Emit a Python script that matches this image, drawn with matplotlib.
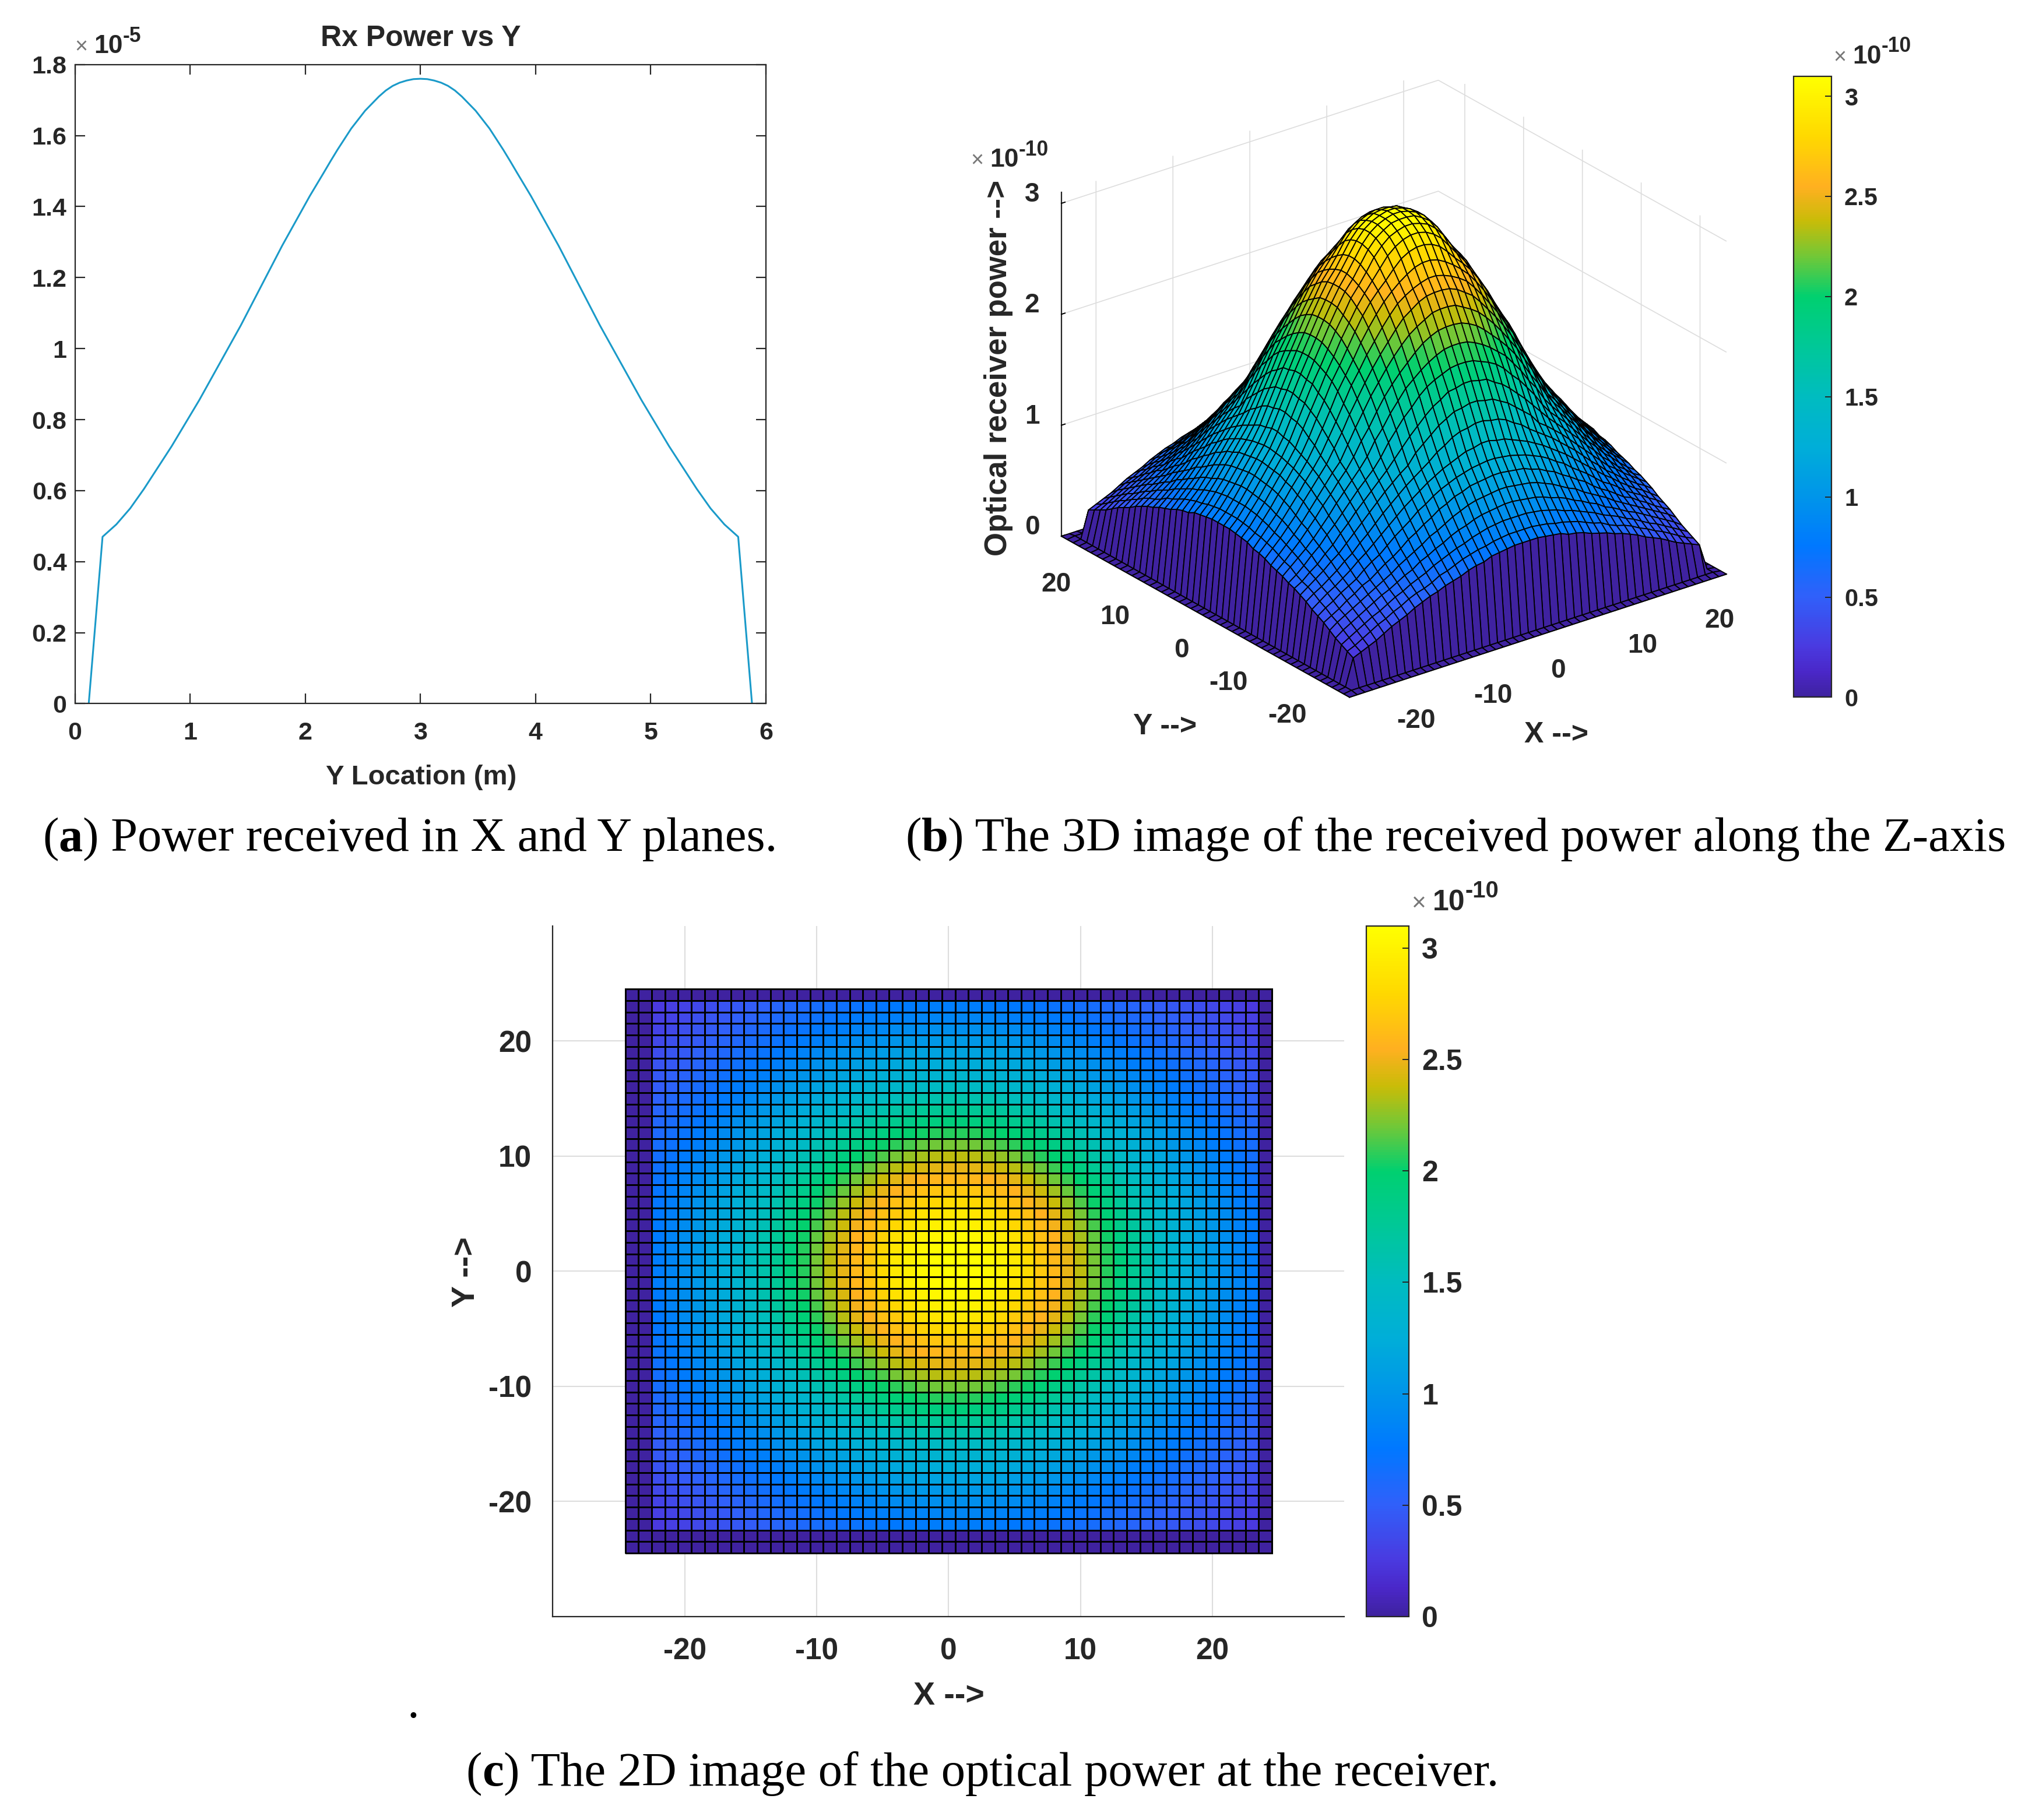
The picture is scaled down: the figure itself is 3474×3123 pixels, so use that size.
import matplotlib
matplotlib.use('Agg')
import matplotlib.pyplot as plt
import numpy as np
from matplotlib.colors import LinearSegmentedColormap, Normalize
from matplotlib.cm import ScalarMappable
from mpl_toolkits.mplot3d import proj3d

plt.rcParams['font.family'] = ['Liberation Sans', 'DejaVu Sans']
plt.rcParams['axes.unicode_minus'] = False

# panel a: received power along Y
y_location = [0, .12, .24, .36, .48, .6, .72, .84, .96, 1.08, 1.2, 1.32, 1.44, 1.56, 1.68, 1.8, 1.92,
              2.04, 2.16, 2.22, 2.28, 2.34, 2.4, 2.46, 2.52, 2.58, 2.64, 2.7, 2.76, 2.82, 2.88, 2.94, 3.0,
              3.06, 3.12, 3.18, 3.24, 3.3, 3.36, 3.42, 3.48, 3.54, 3.6, 3.66, 3.72, 3.78, 3.84,
              3.96, 4.08, 4.2, 4.32, 4.44, 4.56, 4.68, 4.8, 4.92, 5.04, 5.16, 5.28, 5.4, 5.52,
              5.64, 5.76, 5.88, 6.0]
rx_power = [0, 0, .47, .505, .55, .605, .665, .725, .79, .855, .925, .995, 1.065, 1.14, 1.215, 1.29, 1.36,
            1.43, 1.495, 1.528, 1.56, 1.59, 1.62, 1.645, 1.67, 1.69, 1.71, 1.727, 1.74, 1.749, 1.755, 1.759, 1.76,
            1.759, 1.755, 1.749, 1.74, 1.727, 1.71, 1.69, 1.67, 1.645, 1.62, 1.59, 1.56, 1.528, 1.495,
            1.43, 1.36, 1.29, 1.215, 1.14, 1.065, .995, .925, .855, .79, .725, .665, .605, .55,
            .505, .47, 0, 0]

# panels b, c: power in 1e-12 units, one row per |x| step, one entry per |y| step (x, y symmetric)
grid_x = np.arange(-24.5, 25, 1.0)
power_table = [
    [310],
    [308, 307],
    [305, 303, 300],
    [300, 298, 294, 288],
    [292, 290, 286, 279, 271],
    [281, 279, 275, 270, 264, 257],
    [270, 268, 265, 261, 256, 248, 239],
    [260, 259, 256, 251, 246, 238, 229, 220],
    [248, 247, 243, 239, 234, 227, 219, 210, 200],
    [235, 234, 231, 227, 221, 214, 207, 199, 190, 179],
    [221, 220, 217, 213, 208, 202, 196, 187, 178, 167, 158],
    [207, 206, 203, 200, 196, 190, 182, 175, 166, 157, 146, 137],
    [193, 191, 190, 185, 181, 175, 168, 161, 153, 145, 137, 130, 123],
    [178, 176, 175, 171, 167, 161, 155, 149, 140, 135, 129, 123, 116, 109],
    [163, 161, 160, 157, 152, 148, 142, 137, 132, 127, 121, 115, 109, 102, 95],
    [148, 146, 145, 142, 139, 136, 132, 128, 123, 118, 113, 107, 101, 95, 89, 83],
    [135, 134, 133, 131, 129, 126, 123, 119, 114, 110, 104, 99, 94, 88, 82, 78, 73],
    [125, 124, 123, 122, 119, 117, 113, 110, 105, 101, 96, 92, 86, 81, 77, 72, 67, 64],
    [115, 114, 113, 112, 110, 107, 104, 100, 96, 93, 88, 84, 80, 76, 71, 67, 63, 59, 55],
    [105, 104, 103, 102, 100, 97, 95, 92, 88, 85, 81, 78, 73, 70, 66, 62, 59, 55, 51, 47],
    [95, 95, 94, 93, 91, 89, 86, 84, 81, 78, 75, 71, 68, 65, 61, 58, 54, 50, 47, 43, 39],
    [86, 86, 85, 84, 82, 81, 79, 77, 74, 71, 69, 65, 62, 60, 57, 53, 50, 46, 43, 39, 35, 31],
    [79, 79, 78, 77, 76, 73, 72, 70, 67, 65, 63, 60, 58, 55, 52, 48, 45, 42, 38, 34, 31, 28, 25],
    [1] * 24,
    [0] * 25,
]

# colour stops
cbar_values = [0, .12, .25, .5, .75, 1, 1.25, 1.5, 1.75, 2.0, 2.2, 2.38, 2.55, 2.8, 3.1]
cbar_colors = ['#3f22a0', '#4a27c8', '#4a3ae0', '#3060fa', '#0078ff', '#0095ea', '#00aed8', '#00bcc0',
               '#00c898', '#00d070', '#70c838', '#c8bc08', '#ffb020', '#ffd800', '#ffff00']

tick_3d = [-20, -10, 0, 10, 20]
tick_labels = ['-20', '-10', '0', '10', '20']

Z = np.zeros((50, 50))
for i in range(50):
    for j in range(50):
        a, b = int(abs(grid_x[i])), int(abs(grid_x[j]))
        Z[i, j] = power_table[max(a, b)][min(a, b)] / 100.0

cmap = LinearSegmentedColormap.from_list('rx', [(v / 3.1, c) for v, c in zip(cbar_values, cbar_colors)], N=256)
norm = Normalize(0, 3.1)
INK = '#262626'
SERIF = ['Liberation Serif']
CAP = 59.5

fig = plt.figure(figsize=(34.74, 31.23), dpi=100)
S = 3474 / 1568
renderer = fig.canvas.get_renderer()


def rect(left, top, right, bottom):
    return [left * S / 3474, 1 - bottom * S / 3123, (right - left) * S / 3474, (bottom - top) * S / 3123]


def put(x, y, s, **kw):
    kw.setdefault('ha', 'center')
    kw.setdefault('va', 'center')
    kw.setdefault('color', INK)
    kw.setdefault('fontweight', 'bold')
    return fig.text(x * S / 3474, 1 - y * S / 3123, s, **kw)


def run_text(x, y, parts):
    # pieces of text on one baseline, each one starting where the last one stopped
    fx = x * S
    for s, dy, kw in parts:
        t = fig.text(fx / 3474, 1 - (y + dy) * S / 3123, s, ha='left', va='baseline', **kw)
        fx = t.get_window_extent(renderer).x1


def exponent(x, y, power, size):
    run_text(x, y, [('\u00d7 ', 0, dict(color='#777777', fontsize=size * .85)),
                    ('10', 0, dict(color=INK, fontsize=size, fontweight='bold')),
                    (power, -size * .27, dict(color=INK, fontsize=size * .8, fontweight='bold'))])


def caption(x, y, letter, rest):
    kw = dict(family=SERIF, fontsize=CAP, color='black')
    run_text(x, y, [('(', 0, kw), (letter, 0, dict(kw, fontweight='bold')), (rest, 0, kw)])


# panel a
ax1 = fig.add_axes(rect(58, 50, 593, 545))
ax1.plot(y_location, rx_power, color='#1a9ac9', lw=2.2)
ax1.set_xlim(0, 6)
ax1.set_ylim(0, 1.8)
ax1.set_xticks([0, 1, 2, 3, 4, 5, 6])
ax1.set_xticklabels(['0', '1', '2', '3', '4', '5', '6'])
ax1.set_yticks([0, .2, .4, .6, .8, 1, 1.2, 1.4, 1.6, 1.8])
ax1.set_yticklabels(['0', '0.2', '0.4', '0.6', '0.8', '1', '1.2', '1.4', '1.6', '1.8'])
ax1.tick_params(direction='in', length=12, width=1.6, top=True, right=True, labelsize=31, pad=10,
                labelcolor=INK, color=INK)
ax1.tick_params(axis='x', pad=22)
for lab in ax1.get_xticklabels() + ax1.get_yticklabels():
    lab.set_fontweight('bold')
for sp in ax1.spines.values():
    sp.set_linewidth(1.6)
    sp.set_color(INK)
put(326, 30, 'Rx Power vs Y', fontsize=36)
put(326, 602, 'Y Location (m)', fontsize=34)
exponent(58, 41, '-5', 32)

# panel b
ax2 = fig.add_axes(rect(640, 0, 1380, 600), projection='3d', proj_type='ortho')
ax2.patch.set_alpha(0)
ax2.view_init(elev=25.3, azim=-127.4)
face = cmap(norm(Z))
ax2.plot_surface(*np.meshgrid(grid_x, grid_x), Z, rstride=1, cstride=1, facecolors=face[:-1, :-1],
                 edgecolor='black', linewidth=1.3, shade=False, antialiased=True)
ax2.set_xlim(-24.5, 24.5)
ax2.set_ylim(-24.5, 24.5)
ax2.set_zlim(0, 3.1)
ax2.set_xticks(tick_3d)
ax2.set_xticklabels(tick_labels)
ax2.set_yticks(tick_3d)
ax2.set_yticklabels(tick_labels)
ax2.set_zticks([0, 1, 2, 3])
ax2.set_zticklabels(['0', '1', '2', '3'])
for axis in (ax2.xaxis, ax2.yaxis, ax2.zaxis):
    axis.pane.set_facecolor((1, 1, 1, 0))
    axis.pane.set_edgecolor((1, 1, 1, 0))
    axis._axinfo['grid'].update(color='#dddddd', linewidth=1.2)
    axis._axinfo['tick'].update(inward_factor=0.0, outward_factor=0.12, linewidth={True: 1.4, False: 1})
    axis.line.set_color(INK)
    axis.line.set_linewidth(1.6)
ax2.zaxis.set_ticks_position('upper')
ax2.tick_params(labelsize=33, labelcolor=INK, pad=14)
for lab in ax2.get_xticklabels() + ax2.get_yticklabels() + ax2.get_zticklabels():
    lab.set_fontweight('bold')
for lab in ax2.get_xticklabels():
    lab.set_ha('left')
for lab in ax2.get_yticklabels():
    lab.set_ha('right')
for lab in ax2.get_zticklabels():
    lab.set_va('baseline')


def fit_3d(ax, targets):
    # move and zoom the box so that its floor corners land where they are in the reference
    zoom = 1.0
    for _ in range(2):
        ax.set_box_aspect((1, 1, 0.802), zoom=zoom)
        ax.apply_aspect()
        M = ax.get_proj()
        pts = []
        for cx, cy in [(-24.5, -24.5), (24.5, -24.5), (-24.5, 24.5)]:
            px, py, _z = proj3d.proj_transform(cx, cy, 0, M)
            pts.append(ax.transData.transform((px, py)))
        span = pts[1][0] - pts[2][0]
        zoom *= (targets[1][0] - targets[2][0]) / span
    ax.set_box_aspect((1, 1, 0.802), zoom=zoom)
    ax.apply_aspect()
    M = ax.get_proj()
    px, py, _z = proj3d.proj_transform(-24.5, -24.5, 0, M)
    d = ax.transData.transform((px, py))
    want = (targets[0][0], 3123 - targets[0][1])
    pos = ax.get_position(original=True)
    ax.set_position([pos.x0 + (want[0] - d[0]) / 3474, pos.y0 + (want[1] - d[1]) / 3123, pos.width, pos.height])


fit_3d(ax2, [(1045 * S, 540 * S), (1337 * S, 445 * S), (822 * S, 415 * S)])
put(773, 285, 'Optical receiver power -->', rotation=90, fontsize=38)
put(902, 563, 'Y -->', fontsize=36)
put(1205, 569, 'X -->', fontsize=36)
exponent(752, 129, '-10', 32)

cax1 = fig.add_axes(rect(1389, 59, 1418, 540))
cb1 = fig.colorbar(ScalarMappable(norm, cmap), cax=cax1)
exponent(1420, 49, '-10', 32)

# panel c
ax3 = fig.add_axes(rect(428, 717, 1041, 1252))
ax3.pcolormesh(grid_x, grid_x, Z[:-1, :-1], cmap=cmap, norm=norm, edgecolors='black', linewidth=1.8, zorder=3)
ax3.set_xlim(-30, 30)
ax3.set_ylim(-30, 30)
ax3.set_xticks(tick_3d)
ax3.set_xticklabels(tick_labels)
ax3.set_yticks(tick_3d)
ax3.set_yticklabels(tick_labels)
ax3.grid(color='#dddddd', lw=1.5)
ax3.spines['top'].set_visible(False)
ax3.spines['right'].set_visible(False)
for sp in ax3.spines.values():
    sp.set_linewidth(1.6)
    sp.set_color(INK)
ax3.tick_params(length=0, labelsize=37, pad=26, labelcolor=INK)
for lab in ax3.get_xticklabels() + ax3.get_yticklabels():
    lab.set_fontweight('bold')
put(735, 1314, 'X -->', fontsize=40)
put(361, 985, 'Y -->', rotation=90, fontsize=40)

cax2 = fig.add_axes(rect(1058, 717, 1091, 1252))
cb2 = fig.colorbar(ScalarMappable(norm, cmap), cax=cax2)
exponent(1093, 705, '-10', 36)

for cb, size in ((cb1, 30), (cb2, 36)):
    cb.set_ticks([0, .5, 1, 1.5, 2, 2.5, 3])
    cb.set_ticklabels(['0', '0.5', '1', '1.5', '2', '2.5', '3'])
    cb.ax.tick_params(direction='in', length=8, width=1.4, labelsize=size, pad=16, labelcolor=INK, color=INK)
    for lab in cb.ax.get_yticklabels():
        lab.set_fontweight('bold')
    cb.outline.set_linewidth(1.6)
    cb.outline.set_edgecolor(INK)

fig.text(320 * S / 3474, 1 - 1330 * S / 3123, '.', fontsize=CAP, family=SERIF, ha='center', va='baseline')
caption(33, 659, 'a', ') Power received in X and Y planes.')
caption(701, 659, 'b', ') The 3D image of the received power along the Z-axis')
caption(361, 1383, 'c', ') The 2D image of the optical power at the receiver.')

fig.savefig('out.png', dpi=100)
